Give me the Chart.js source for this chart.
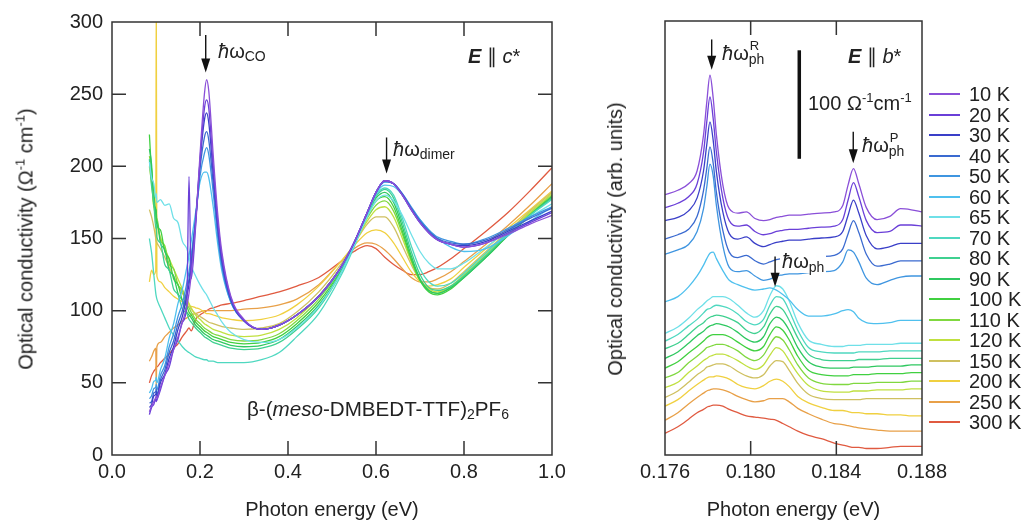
<!DOCTYPE html>
<html>
<head>
<meta charset="utf-8">
<title>Optical conductivity of β-(meso-DMBEDT-TTF)2PF6</title>
<script src="https://cdn.jsdelivr.net/npm/chart.js@4.4.1/dist/chart.umd.min.js"></script>
<style>
html,body{margin:0;padding:0;background:#fff;}
body{position:relative;width:1027px;height:531px;overflow:hidden;font-family:"Liberation Sans",Arial,Helvetica,sans-serif;color:#222;}
canvas{position:absolute;top:0;}
#cl{left:0;}
#cr{left:560px;}
.t{position:absolute;font-size:20px;line-height:20px;white-space:nowrap;z-index:2;}
.sub{font-size:14px;position:relative;top:3px;}
.sup{font-size:13px;position:relative;top:-8px;}
.ss{position:relative;display:inline-block;}
.ss .lo{font-size:14px;position:relative;top:4px;}
.ss .hi{font-size:13px;position:absolute;left:1px;top:-7px;}
.ytitle{position:absolute;font-size:20px;line-height:20px;white-space:nowrap;transform:translate(-50%,-50%) rotate(-90deg);}
.leg{position:absolute;left:929px;width:98px;height:20px;}
.leg .sw{position:absolute;left:0;top:9px;width:31px;height:1.6px;}
.leg .lb{position:absolute;left:40px;top:0;font-size:20px;line-height:20px;white-space:nowrap;}
</style>
</head>
<body>
<canvas id="cl" width="600" height="531"></canvas>
<canvas id="cr" width="467" height="531"></canvas>

<div class="ytitle" style="left:26.5px;top:238.5px;">Optical conductivity (Ω<span class="sup">-1</span> cm<span class="sup">-1</span>)</div>
<div class="ytitle" style="left:615px;top:239px;">Optical conductivity (arb. units)</div>

<div class="t" style="left:218px;top:41px;"><i>ħ</i>ω<span class="sub">CO</span></div>
<div class="t" style="left:393px;top:139px;"><i>ħ</i>ω<span class="sub">dimer</span></div>
<div class="t" style="left:468px;top:46px;"><b><i>E</i></b> ∥ <i>c</i>*</div>
<div class="t" style="left:247px;top:399px;font-size:20.6px;">β-(<i>meso</i>-DMBEDT-TTF)<span class="sub">2</span>PF<span class="sub">6</span></div>

<div class="t" style="left:722px;top:43px;"><i>ħ</i>ω<span class="ss"><span class="hi">R</span><span class="lo">ph</span></span></div>
<div class="t" style="left:808px;top:93px;">100 Ω<span class="sup">-1</span>cm<span class="sup">-1</span></div>
<div class="t" style="left:848px;top:46px;"><b><i>E</i></b> ∥ <i>b</i>*</div>
<div class="t" style="left:862px;top:135px;"><i>ħ</i>ω<span class="ss"><span class="hi">P</span><span class="lo">ph</span></span></div>
<div class="t" style="left:780px;top:251px;background:#fff;padding:0 2px;"><i>ħ</i>ω<span class="ss"><span class="lo">ph</span></span></div>

<div id="legend"></div>

<script>
// ---------- categories ----------
const TEMPS = ['10 K','20 K','30 K','40 K','50 K','60 K','65 K','70 K','80 K','90 K','100 K','110 K','120 K','150 K','200 K','250 K','300 K'];
const COLORS = ['#8a4fd8','#6a3fd8','#3a3fc8','#3a6ad0','#3f95e0','#4fc0ee','#6fe0e8','#4fd8c0','#3fd090','#2fc860','#40d040','#80d840','#c0e040','#cfc060','#f0d040','#e8a048','#e05a40'];

// ---------- tick labels ----------
const LEFT_X_TICKS = [0, 0.2, 0.4, 0.6, 0.8, 1.0];
const LEFT_Y_TICKS = [0, 50, 100, 150, 200, 250, 300];
const RIGHT_X_TICKS = [0.176, 0.180, 0.184, 0.188];

// ---------- left panel: E || c*, photon energy (eV) ----------
const LEFT_X = [0.085,0.09,0.095,0.0995,0.1005,0.102,0.11,0.12,0.13,0.14,0.15,0.16,0.17,0.175,0.18,0.19,0.20,0.21,0.215,0.22,0.23,0.24,0.25,0.27,0.30,0.34,0.38,0.42,0.47,0.52,0.55,0.58,0.60,0.62,0.64,0.66,0.68,0.70,0.72,0.74,0.77,0.80,0.85,0.90,0.95,1.00];
// optical conductivity (Ohm^-1 cm^-1)
const L_10K  = [30,34,37,40,41,39,47,55,64,73,82,92,103,112,125,160,208,250,260,252,208,168,140,110,94,87,90,97,110,130,147,168,182,190,188,180,170,161,154,149,146,144,147,153,160,166];
const L_20K  = [28,33,35,39,37,38,45,55,61,73,80,92,104,193,122,158,204,240,246,240,200,163,137,109,93,87,90,97,110,130,147,168,182,190,188,180,170,161,154,149,146,144,147,154,161,168];
const L_30K  = [33,35,41,42,44,40,50,56,67,75,87,96,110,118,130,162,203,232,237,230,195,160,135,108,93,87,90,97,110,130,147,168,182,190,188,180,170,161,154,149,146,145,148,155,162,169];
const L_40K  = [36,37,43,44,46,42,52,59,71,79,91,100,114,122,134,163,198,220,224,218,188,156,132,107,93,87,90,97,110,130,147,168,182,190,188,181,171,162,155,150,147,146,149,156,164,171];
const L_50K  = [39,41,46,47,49,45,55,62,75,84,96,105,119,127,138,164,193,209,213,208,182,152,130,106,93,87,90,97,110,130,147,168,182,189,188,181,172,163,156,151,148,146,150,157,165,172];
const L_60K  = [43,46,51,52,54,50,59,67,81,91,105,115,130,138,148,168,189,196,196,192,172,147,127,106,93,87,90,97,110,129,146,167,181,187,186,180,171,163,156,150,144,141,143,152,162,172];
const L_65K  = [203,192,188,178,181,175,177,173,174,164,161,148,143,137,131,124,118,113,111,108,102,97,92,85,80,78,80,88,103,126,145,165,176,180,176,166,153,141,133,129,129,133,144,155,165,174];
const L_70K  = [150,140,125,112,110,108,102,95,88,83,79,75,72,71,70,68,67,66,66,65,65,64,64,64,64,66,71,82,98,124,144,167,180,185,180,164,145,129,120,117,119,126,140,154,166,177];
const L_80K  = [205,186,175,157,160,151,147,132,128,115,111,101,98,94,92,88,85,82,81,80,78,77,76,74,73,74,78,87,102,126,145,167,179,184,178,161,141,125,116,114,117,124,138,153,166,178];
const L_90K  = [212,201,174,169,160,162,147,142,128,124,112,107,99,97,95,90,87,84,83,82,80,79,78,76,75,76,80,89,104,127,146,167,178,182,175,158,138,122,114,112,116,123,137,152,166,179];
const L_100K = [222,196,183,167,170,160,156,141,136,122,118,107,103,99,97,92,89,86,85,84,82,81,80,78,77,78,82,91,106,128,146,166,176,179,172,155,136,121,113,111,115,123,137,152,166,179];
const L_110K = [207,198,172,171,163,164,149,145,132,129,118,114,104,102,99,94,91,88,87,86,84,83,82,80,79,80,84,93,108,129,146,164,173,176,169,153,135,121,114,112,116,124,138,153,167,180];
const L_120K = [200,188,172,165,162,160,151,143,136,129,122,115,108,105,102,97,94,91,90,89,87,86,85,83,82,83,87,95,110,130,146,162,170,172,165,150,134,121,115,113,117,125,139,154,168,181];
const L_150K = [170,165,158,150,148,147,143,137,130,124,118,112,107,104,101,98,96,94,93,92,91,90,89,88,87,88,91,99,113,132,146,160,165,165,158,145,132,121,116,115,119,127,141,155,169,182];
const L_200K = [120,128,125,128,330,124,120,116,113,110,108,106,104,103,103,102,101,99,98,98,97,96,95,94,93,94,97,104,117,134,145,154,156,154,147,137,127,120,117,118,122,130,143,157,170,183];
const L_250K = [65,68,72,74,45,75,78,82,85,88,90,93,95,96,97,98,99,100,100,100,100,100,100,100,101,102,104,108,118,134,143,147,146,142,136,129,123,120,120,122,127,134,146,159,173,188];
const L_300K = [50,55,58,60,61,61,64,67,70,74,77,82,86,88,86,94,97,99,100,101,102,103,104,105,107,110,113,117,123,134,141,145,143,137,132,128,125,125,127,130,136,143,155,168,183,199];

// ---------- right panel: E || b*, photon energy (eV) ----------
const RIGHT_X = [0.1760,0.1766,0.1771,0.1775,0.1778,0.17795,0.1781,0.17825,0.1784,0.1787,0.1790,0.1794,0.1798,0.1802,0.1806,0.1809,0.1812,0.1815,0.1818,0.1822,0.1827,0.1833,0.1839,0.1843,0.18455,0.1848,0.18505,0.1854,0.1859,0.1865,0.1870,0.1875,0.1880];
// offset spectra, Ohm^-1 cm^-1 (arbitrary vertical offsets)
const R_10K  = [240,244,250,262,295,325,350,329,295,249,227,223,224,218,216,217,219,220,221,221,222,223,224,230,249,264,250,228,217,220,227,226,224];
const R_20K  = [228,232,238,250,279,307,330,310,279,237,216,211,212,206,203,204,206,207,208,208,209,210,211,217,235,251,238,216,205,206,212,212,211];
const R_30K  = [216,219,225,237,262,286,307,290,261,224,204,199,201,195,192,194,196,197,198,198,199,200,201,206,221,235,223,202,190,192,195,195,195];
const R_40K  = [199,203,208,220,244,264,284,269,242,207,187,182,184,179,176,178,180,181,181,181,182,183,184,190,204,216,205,185,174,176,179,179,179];
const R_50K  = [185,189,194,206,227,247,268,257,230,193,173,169,170,165,161,162,165,166,167,167,168,169,170,178,189,187,178,163,157,161,164,165,165];
const R_60K  = [141,146,155,165,175,181,186,187,181,170,161,157,154,152,153,154,152,148,143,134,128,128,130,133,134,132,126,122,121,122,124,124,124];
const R_65K  = [112,118,126,134,139,142,144,146,146,146,144,138,131,127,133,147,156,153,142,122,106,102,100,100,101,101,101,102,102,102,103,103,103];
const R_70K  = [105,111,119,125,131,134,135,137,138,137,135,130,123,120,125,138,146,144,133,115,99,95,94,94,94,94,95,95,95,96,96,96,96];
const R_80K  = [98,103,111,118,122,125,127,128,129,128,126,122,115,112,118,130,137,134,124,108,93,88,87,87,87,87,88,88,88,89,89,89,89];
const R_90K  = [89,95,103,110,114,117,119,120,121,120,118,113,107,104,109,121,127,124,115,99,86,81,80,80,80,81,81,81,82,82,82,83,83];
const R_100K = [80,86,94,100,105,108,110,111,111,111,109,104,99,96,100,111,118,115,106,91,78,74,73,73,73,74,74,74,75,75,75,76,76];
const R_110K = [71,76,85,91,96,99,100,101,102,102,100,96,90,87,92,102,109,106,97,83,71,66,65,65,65,66,66,66,67,67,67,68,68];
const R_120K = [62,67,76,82,87,89,91,92,93,93,91,87,82,79,83,92,99,96,87,75,64,59,58,58,58,59,59,59,60,60,60,61,61];
const R_150K = [53,59,67,74,78,81,82,83,84,84,82,77,73,71,74,82,87,86,78,66,56,52,51,51,51,51,51,52,52,52,52,52,52];
const R_200K = [45,51,59,65,69,71,72,72,73,72,70,65,62,61,64,68,70,68,63,54,48,44,41,41,40,39,39,38,38,37,37,36,36];
const R_250K = [32,39,47,53,57,59,60,61,61,60,58,54,51,49,50,52,52,52,49,43,38,33,29,28,27,26,25,24,23,22,22,22,22];
const R_300K = [20,26,33,39,42,44,45,46,46,45,42,39,36,35,34,33,32,29,26,22,18,15,11,9,8,7,7,6,6,7,8,8,8];

// ---------- annotations (data coordinates) ----------
const LEFT_ARROWS  = [{x:0.213, from:291, to:265}, {x:0.624, from:220, to:195}];
const RIGHT_ARROWS = [{x:0.17818, from:383, to:355}, {x:0.18479, from:298, to:269}, {x:0.18114, from:183, to:155}];
const RIGHT_SCALEBAR = {x:0.18227, from:273, to:373};

const LEFT_SERIES  = [L_10K,L_20K,L_30K,L_40K,L_50K,L_60K,L_65K,L_70K,L_80K,L_90K,L_100K,L_110K,L_120K,L_150K,L_200K,L_250K,L_300K];
const RIGHT_SERIES = [R_10K,R_20K,R_30K,R_40K,R_50K,R_60K,R_65K,R_70K,R_80K,R_90K,R_100K,R_110K,R_120K,R_150K,R_200K,R_250K,R_300K];

const FONT = '"Liberation Sans", Arial, Helvetica, sans-serif';
Chart.defaults.font.family = FONT;
Chart.defaults.color = '#222';

const framePlugin = {
  id: 'frame',
  afterDatasetsDraw(chart, args, o) {
    const {ctx, chartArea: a} = chart;
    const xs = chart.scales.x, ys = chart.scales.y;
    const L = 14;
    ctx.save();
    ctx.strokeStyle = '#333';
    ctx.lineWidth = 1.5;
    ctx.strokeRect(a.left, a.top, a.right - a.left, a.bottom - a.top);
    ctx.beginPath();
    (o.xTicks || []).forEach(v => {
      const x = xs.getPixelForValue(v);
      ctx.moveTo(x, a.bottom); ctx.lineTo(x, a.bottom - L);
      ctx.moveTo(x, a.top); ctx.lineTo(x, a.top + L);
    });
    (o.yTicks || []).forEach(v => {
      const y = ys.getPixelForValue(v);
      ctx.moveTo(a.left, y); ctx.lineTo(a.left + L, y);
      ctx.moveTo(a.right, y); ctx.lineTo(a.right - L, y);
    });
    ctx.stroke();
    ctx.strokeStyle = '#111';
    ctx.fillStyle = '#111';
    ctx.lineWidth = 1.4;
    (o.arrows || []).forEach(ar => {
      const x = xs.getPixelForValue(ar.x);
      const y0 = ys.getPixelForValue(ar.from), y1 = ys.getPixelForValue(ar.to);
      ctx.beginPath(); ctx.moveTo(x, y0); ctx.lineTo(x, y1 - 10); ctx.stroke();
      ctx.beginPath(); ctx.moveTo(x - 4.5, y1 - 14); ctx.lineTo(x + 4.5, y1 - 14); ctx.lineTo(x, y1); ctx.closePath(); ctx.fill();
    });
    if (o.bar) {
      const x = xs.getPixelForValue(o.bar.x);
      ctx.lineWidth = 3.5;
      ctx.beginPath();
      ctx.moveTo(x, ys.getPixelForValue(o.bar.from));
      ctx.lineTo(x, ys.getPixelForValue(o.bar.to));
      ctx.stroke();
    }
    ctx.restore();
  }
};

function makeDatasets(xs, series) {
  return series.map((s, i) => ({
    label: TEMPS[i],
    data: xs.map((x, j) => ({x: x, y: s[j]})),
    borderColor: COLORS[i],
    backgroundColor: COLORS[i],
    borderWidth: 1.3,
    pointRadius: 0,
    fill: false,
    cubicInterpolationMode: 'monotone'
  }));
}

const tickFont = {size: 20, family: FONT};

new Chart(document.getElementById('cl'), {
  type: 'line',
  data: {datasets: makeDatasets(LEFT_X, LEFT_SERIES)},
  options: {
    responsive: false, animation: false, events: [],
    layout: {padding: {top: 22, right: 48, left: 0, bottom: 0}},
    plugins: {
      legend: {display: false}, tooltip: {enabled: false},
      frame: {xTicks: [0.2, 0.4, 0.6, 0.8], yTicks: [50, 100, 150, 200, 250], arrows: LEFT_ARROWS}
    },
    scales: {
      x: {
        type: 'linear', min: 0, max: 1,
        grid: {display: false, drawTicks: false}, border: {display: false},
        afterBuildTicks: s => { s.ticks = LEFT_X_TICKS.map(v => ({value: v})); },
        afterFit: s => { s.height = 76; },
        ticks: {padding: 5, font: tickFont, color: '#222', maxRotation: 0, autoSkip: false, callback: v => Number(v).toFixed(1)},
        title: {display: true, text: 'Photon energy (eV)', font: tickFont, color: '#222', padding: {top: 0, bottom: 9}}
      },
      y: {
        type: 'linear', min: 0, max: 300,
        grid: {display: false, drawTicks: false}, border: {display: false},
        afterBuildTicks: s => { s.ticks = LEFT_Y_TICKS.map(v => ({value: v})); },
        afterFit: s => { s.width = 112; },
        ticks: {padding: 9, font: tickFont, color: '#222', callback: v => String(v)}
      }
    }
  },
  plugins: [framePlugin]
});

new Chart(document.getElementById('cr'), {
  type: 'line',
  data: {datasets: makeDatasets(RIGHT_X, RIGHT_SERIES)},
  options: {
    responsive: false, animation: false, events: [],
    layout: {padding: {top: 21, right: 105, left: 105, bottom: 0}},
    plugins: {
      legend: {display: false}, tooltip: {enabled: false},
      frame: {xTicks: [0.180, 0.184], yTicks: [], arrows: RIGHT_ARROWS, bar: RIGHT_SCALEBAR}
    },
    scales: {
      x: {
        type: 'linear', min: 0.176, max: 0.188,
        grid: {display: false, drawTicks: false}, border: {display: false},
        afterBuildTicks: s => { s.ticks = RIGHT_X_TICKS.map(v => ({value: v})); },
        afterFit: s => { s.height = 76; },
        ticks: {padding: 5, font: tickFont, color: '#222', maxRotation: 0, autoSkip: false, callback: v => Number(v).toFixed(3)},
        title: {display: true, text: 'Photon energy (eV)', font: tickFont, color: '#222', padding: {top: 0, bottom: 9}}
      },
      y: {type: 'linear', min: 0, max: 400, display: false}
    }
  },
  plugins: [framePlugin]
});

// legend (HTML, built from the category arrays)
const legend = document.getElementById('legend');
TEMPS.forEach((t, i) => {
  const d = document.createElement('div');
  d.className = 'leg';
  d.style.top = Math.round(84 + i * 20.5) + 'px';
  d.innerHTML = '<div class="sw" style="background:' + COLORS[i] + '"></div><div class="lb">' + t + '</div>';
  legend.appendChild(d);
});
</script>
</body>
</html>
